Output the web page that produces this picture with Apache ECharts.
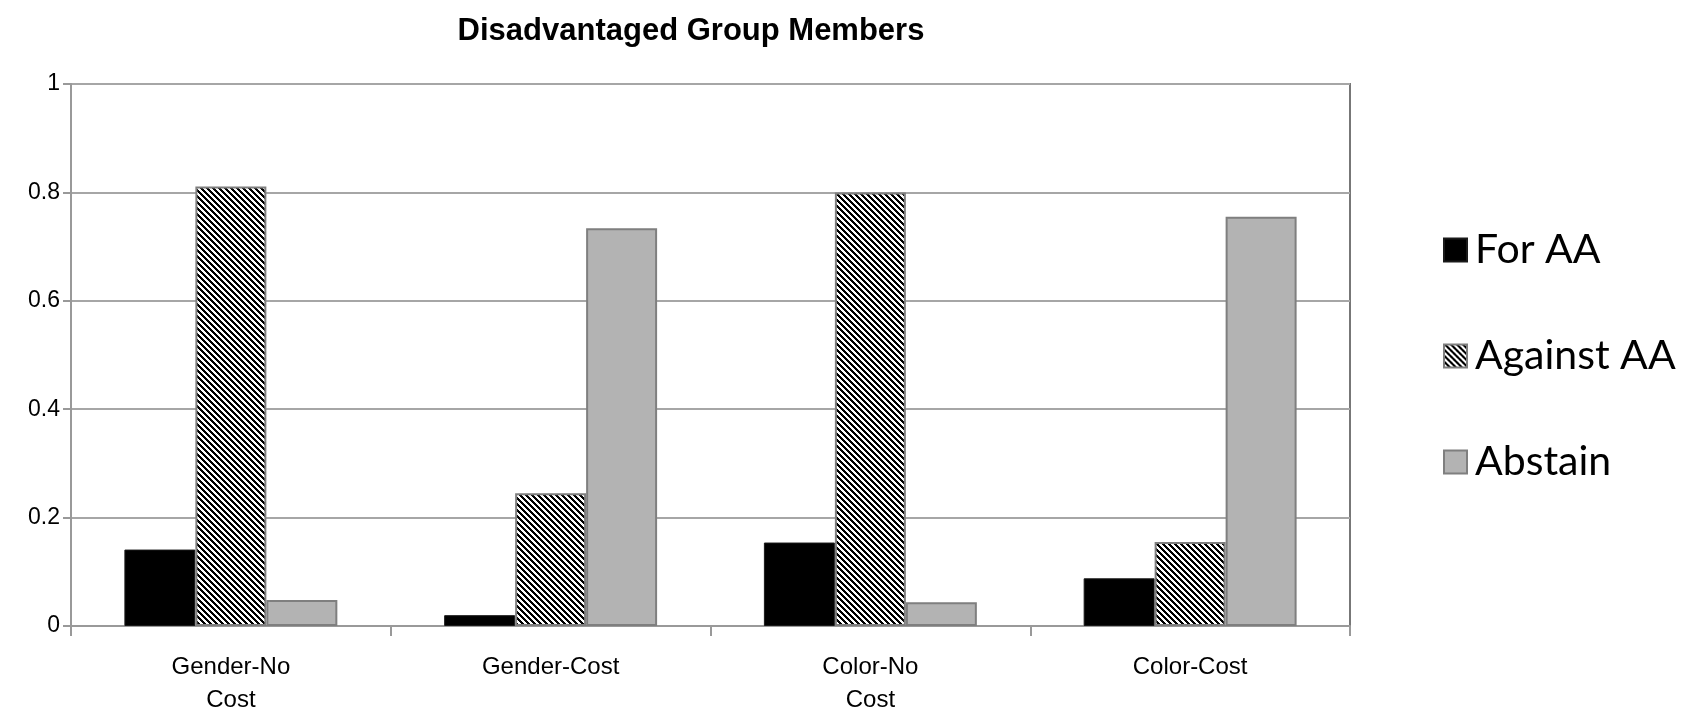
<!DOCTYPE html>
<html>
<head>
<meta charset="utf-8">
<title>Disadvantaged Group Members</title>
<script src="https://cdn.jsdelivr.net/npm/echarts@6/dist/echarts.min.js"></script>
<style>
  html, body { margin: 0; padding: 0; background: #ffffff; }
  #chart { width: 1692px; height: 711px; }
</style>
</head>
<body>
<div id="chart"></div>
<script>
// Groups along the x axis
const categories = ['Gender-No\nCost', 'Gender-Cost', 'Color-No\nCost', 'Color-Cost'];

// Share of votes per option
const forAA     = [0.141, 0.020, 0.154, 0.088];
const againstAA = [0.811, 0.245, 0.800, 0.155];
const abstain   = [0.048, 0.734, 0.044, 0.755];

const seriesNames = ['For AA', 'Against AA', 'Abstain'];

// Value axis ticks
const yTicks = [0, 0.2, 0.4, 0.6, 0.8, 1];
const yTickLabels = ['0', '0.2', '0.4', '0.6', '0.8', '1'];

// Downward diagonal hatch used for the "Against AA" bars
function makeHatch() {
  const size = 6;
  const c = document.createElement('canvas');
  c.width = size; c.height = size;
  const ctx = c.getContext('2d');
  ctx.fillStyle = '#ffffff';
  ctx.fillRect(0, 0, size, size);
  ctx.fillStyle = '#000000';
  for (let i = 0; i < size; i++) {
    ctx.fillRect(i, i, 1, 1);
    ctx.fillRect((i + 1) % size, i, 1, 1);
    ctx.fillRect((i + 2) % size, i, 1, 1);
  }
  return c;
}
const hatch = { image: makeHatch(), repeat: 'repeat' };

const chart = echarts.init(document.getElementById('chart'), null, { renderer: 'canvas' });

const baseFont = '"Liberation Sans", Arial, sans-serif';

chart.setOption({
  animation: false,
  backgroundColor: '#ffffff',
  title: {
    text: 'Disadvantaged Group Members',
    left: 686,
    top: 11,
    textAlign: 'center',
    textStyle: { fontFamily: baseFont, fontWeight: 'bold', fontSize: 31, color: '#000000' }
  },
  grid: {
    left: 71, right: 342, top: 84, bottom: 85,
    outerBoundsMode: 'none',
    containLabel: false,
    show: true, borderColor: '#777777', borderWidth: 2, backgroundColor: 'transparent'
  },
  legend: {
    orient: 'vertical',
    left: 1438,
    top: 224,
    itemWidth: 23,
    itemHeight: 23,
    itemGap: 64,
    icon: 'rect',
    data: seriesNames,
    textStyle: {
      fontFamily: 'Lato, "Open Sans", sans-serif',
      fontSize: 41,
      lineHeight: 42,
      color: '#000000',
      padding: [0, 0, 0, 3]
    }
  },
  xAxis: {
    type: 'category',
    data: categories,
    axisLine: { show: true, lineStyle: { color: '#999999', width: 2 } },
    axisTick: { show: true, length: 10, lineStyle: { color: '#999999', width: 2 } },
    axisLabel: {
      margin: 25,
      fontFamily: baseFont,
      fontSize: 24,
      lineHeight: 33,
      color: '#000000'
    },
    splitLine: { show: false }
  },
  yAxis: {
    type: 'value',
    min: yTicks[0],
    max: yTicks[yTicks.length - 1],
    interval: 0.2,
    axisLine: { show: true, lineStyle: { color: '#999999', width: 2 } },
    axisTick: { show: true, length: 8, lineStyle: { color: '#999999', width: 2 } },
    axisLabel: {
      margin: 11,
      fontFamily: baseFont,
      fontSize: 23,
      color: '#000000',
      formatter: function (v) {
        const i = yTicks.findIndex(t => Math.abs(t - v) < 1e-9);
        return i >= 0 ? yTickLabels[i] : '';
      }
    },
    splitLine: { show: true, lineStyle: { color: '#a6a6a6', width: 2 } }
  },
  series: [
    {
      name: seriesNames[0],
      type: 'bar',
      data: forAA,
      barGap: '0%',
      barCategoryGap: '33.4%',
      itemStyle: { color: '#000000', borderColor: '#1a1a1a', borderWidth: 1 }
    },
    {
      name: seriesNames[1],
      type: 'bar',
      data: againstAA,
      itemStyle: { color: hatch, borderColor: '#7f7f7f', borderWidth: 2 }
    },
    {
      name: seriesNames[2],
      type: 'bar',
      data: abstain,
      itemStyle: { color: '#b3b3b3', borderColor: '#7f7f7f', borderWidth: 2 }
    }
  ]
});
</script>
</body>
</html>
